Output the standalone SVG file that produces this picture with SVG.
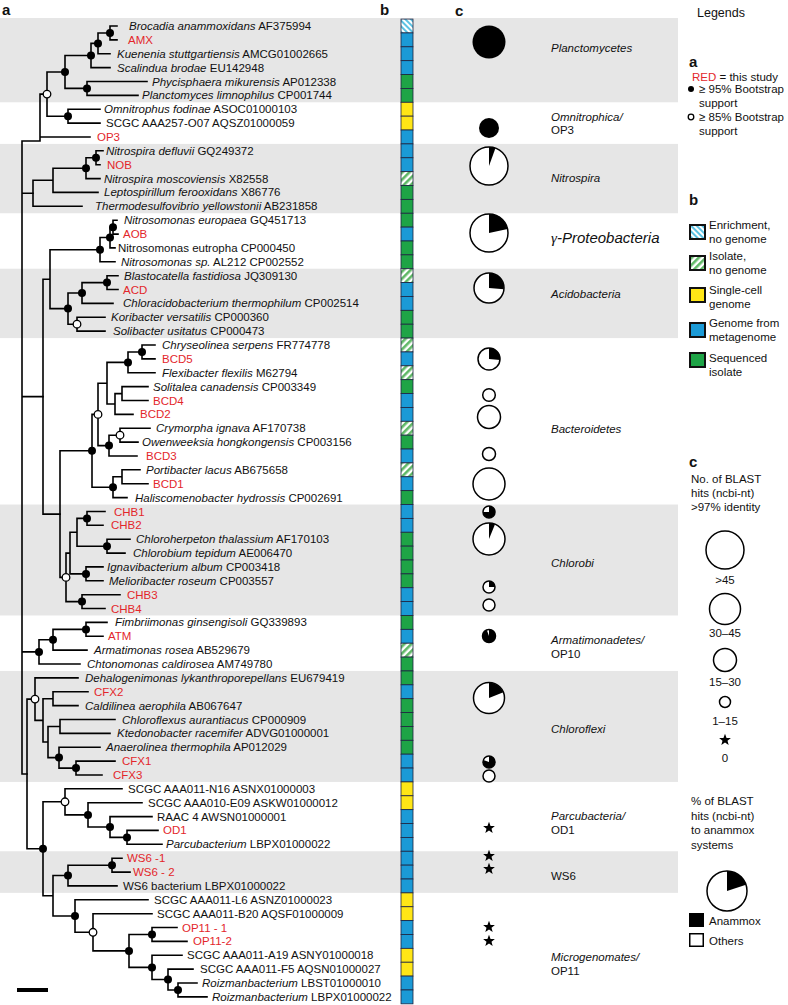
<svg xmlns="http://www.w3.org/2000/svg" width="788" height="1005" viewBox="0 0 788 1005">
<defs>
<style>
text{font-family:"Liberation Sans",Arial,Helvetica,sans-serif;fill:#111}
.t{font-size:11.5px}
.i{font-style:italic}
.r{fill:#e3262b}
.br{fill:none;stroke:#000;stroke-width:1.6;stroke-linecap:square}
.dot{fill:#000}
.od{fill:#fff;stroke:#000;stroke-width:1.3}
.band{fill:#e6e6e6}
.cb rect{stroke:#1d2340;stroke-width:0.8}
.B{fill:#1b9ad6}.G{fill:#1ea446}.Y{fill:#ffe616}.E{fill:url(#pe)}.I{fill:url(#pi)}
.pie{fill:#fff;stroke:#000;stroke-width:1.5}
.wd{fill:#000}
.grp{font-size:11.5px;font-style:italic}
.lab{font-size:15px;font-weight:bold}
.lg{font-size:11.5px}
.lb{stroke:#111;stroke-width:2}
</style>
<pattern id="pe" width="4" height="4" patternUnits="userSpaceOnUse" patternTransform="rotate(-45)"><rect width="4" height="4" fill="#fff"/><rect width="2" height="4" fill="#5cc3e4"/></pattern>
<pattern id="pi" width="5" height="5" patternUnits="userSpaceOnUse" patternTransform="rotate(45)"><rect width="5" height="5" fill="#fff"/><rect width="2.6" height="5" fill="#5fb866"/></pattern>
<path id="star" d="M0,-6.2L1.55,-2.1L5.9,-1.9L2.5,0.8L3.65,5L0,2.6L-3.65,5L-2.5,0.8L-5.9,-1.9L-1.55,-2.1Z"/>
</defs>
<rect width="788" height="1005" fill="#fff"/>
<g id="bands">
<rect class="band" x="0" y="18" width="678" height="84.3"/>
<rect class="band" x="0" y="143.9" width="678" height="69.35"/>
<rect class="band" x="0" y="268.73" width="678" height="69.35"/>
<rect class="band" x="0" y="504.52" width="678" height="110.96"/>
<rect class="band" x="0" y="670.96" width="678" height="110.96"/>
<rect class="band" x="0" y="851.27" width="678" height="41.61"/>
</g>
<g id="panel-labels">
<text class="lab" x="2" y="15">a</text>
<text class="lab" x="380" y="15">b</text>
<text class="lab" x="455" y="16">c</text>
</g>
<g id="connectors">
<path class="br" d="M110,26V39.9M110,26H117M110,39.9H117M98,33V53.7M98,33H110M98,53.7H110M91,43.4V67.6M91,43.4H98M91,67.6H110M87,81.5V95.4M87,81.5H147M87,95.4H138M65,55.5V88.4M65,55.5H91M65,88.4H87M68,109.2V123.1M68,109.2H100M68,123.1H100M47,72V116.2M47,72H65M47,116.2H68M40,94.1V141M40,94.1H47M40,137H90M22,141V774M22,141H40M22,193.3H33M22,396.6H43M22,651.9H39M22,774H27"/>
<path class="br" d="M96,150.8V164.7M96,150.8H103M96,164.7H100M86,157.8V178.6M86,157.8H96M86,178.6H100M53,168.2V192.4M53,168.2H86M53,192.4H98M33,180.3V206.3M33,180.3H53M33,206.3H82"/>
<path class="br" d="M113,220.2V234.1M113,220.2H117M113,234.1H118M110,227.2V247.9M110,227.2H113M110,247.9H115M100,237.5V261.8M100,237.5H110M100,261.8H115M107,275.7V289.5M107,275.7H118M107,289.5H118M82,282.6V303.4M82,282.6H107M82,303.4H113M77,317.3V331.1M77,317.3H105M77,331.1H105M68,293V324.2M68,293H82M68,324.2H77M50,249.7V308.6M50,249.7H100M50,308.6H68M43,279.2V514.1M43,279.2H50M43,514.1H60"/>
<path class="br" d="M142,345V358.9M142,345H155M142,358.9H155M128,352V372.8M128,352H142M128,372.8H155M122,386.6V400.5M122,386.6H148M122,400.5H148M115,393.6V414.4M115,393.6H122M115,414.4H133M107,362.4V404M107,362.4H128M107,404H115M120,428.2V442.1M120,428.2H150M120,442.1H138M109,435.2V456M109,435.2H120M109,456H137M98,383.2V445.6M98,383.2H107M98,445.6H109M122,469.8V483.7M122,469.8H140M122,483.7H148M113,476.8V497.6M113,476.8H122M113,497.6H127M92,414.4V487.2M92,414.4H98M92,487.2H113M60,450.8V577.4M60,450.8H92M60,577.4H66"/>
<path class="br" d="M87,511.5V525.3M87,511.5H105M87,525.3H103M107,539.2V553.1M107,539.2H130M107,553.1H125M77,518.4V546.2M77,518.4H87M77,546.2H107M86,566.9V580.8M86,566.9H103M86,580.8H103M70,532.3V573.9M70,532.3H77M70,573.9H86M82,594.7V608.5M82,594.7H120M82,608.5H105M66,553.1V601.6M66,553.1H70M66,601.6H82"/>
<path class="br" d="M86,622.4V636.3M86,622.4H107M86,636.3H103M53,629.4V650.1M53,629.4H86M53,650.1H87M39,639.8V664M39,639.8H53M39,664H80"/>
<path class="br" d="M53,691.8V705.6M53,691.8H88M53,705.6H78M60,719.5V733.4M60,719.5H115M60,733.4H110M76,761.1V775M76,761.1H115M76,775H102M59,747.2V768.1M59,747.2H100M59,768.1H76M48,726.5V757.6M48,726.5H60M48,757.6H59M43,698.7V742M43,698.7H53M43,742H48M35,677.9V720.4M35,677.9H78M35,720.4H43M27,699.1V848.8M27,699.1H35M27,848.8H43"/>
<path class="br" d="M127,830.4V844.3M127,830.4H158M127,844.3H162M110,816.6V837.4M110,816.6H152M110,837.4H127M88,802.7V827M88,802.7H142M88,827H110M65,788.8V814.9M65,788.8H122M65,814.9H88M112,858.2V872.1M112,858.2H122M112,872.1H130M68,865.2V885.9M68,865.2H112M68,885.9H117M178,983V996.9M178,983H197M178,996.9H207M168,969.1V990M168,969.1H193M168,990H178M152,955.3V979.5M152,955.3H182M152,979.5H168M152,927.5V941.4M152,927.5H177M152,941.4H187M129,934.5V967.4M129,934.5H152M129,967.4H152M93,913.7V950.9M93,913.7H152M93,950.9H129M75,899.8V932.3M75,899.8H148M75,932.3H93M53,875.5V916M53,875.5H68M53,916H75M43,801.8V895.8M43,801.8H65M43,895.8H53"/>
</g>
<g id="support-nodes">
<circle class="dot" cx="110" cy="33" r="4"/><circle class="dot" cx="98" cy="43.4" r="4"/><circle class="dot" cx="91" cy="55.5" r="4"/><circle class="dot" cx="87" cy="88.4" r="4"/><circle class="dot" cx="65" cy="72" r="4"/><circle class="dot" cx="68" cy="116.2" r="4"/><circle class="od" cx="47" cy="94.1" r="3.8"/>
<circle class="dot" cx="96" cy="157.8" r="4"/><circle class="dot" cx="86" cy="168.2" r="4"/>
<circle class="dot" cx="113" cy="227.2" r="4"/><circle class="dot" cx="110" cy="237.5" r="4"/><circle class="dot" cx="100" cy="249.7" r="4"/>
<circle class="dot" cx="107" cy="282.6" r="4"/><circle class="dot" cx="82" cy="293" r="4"/><circle class="dot" cx="68" cy="308.6" r="4"/><circle class="od" cx="77" cy="324.2" r="3.8"/>
<circle class="dot" cx="142" cy="352" r="4"/><circle class="dot" cx="128" cy="362.4" r="4"/><circle class="od" cx="120" cy="435.2" r="3.8"/><circle class="dot" cx="109" cy="445.6" r="4"/><circle class="od" cx="98" cy="414.4" r="3.8"/><circle class="dot" cx="113" cy="487.2" r="4"/><circle class="dot" cx="92" cy="450.8" r="4"/>
<circle class="dot" cx="87" cy="518.4" r="4"/><circle class="dot" cx="107" cy="546.2" r="4"/><circle class="dot" cx="86" cy="573.9" r="4"/><circle class="dot" cx="82" cy="601.6" r="4"/><circle class="od" cx="66" cy="577.4" r="3.8"/>
<circle class="dot" cx="86" cy="629.4" r="4"/><circle class="dot" cx="53" cy="639.8" r="4"/><circle class="dot" cx="39" cy="651.9" r="4"/>
<circle class="dot" cx="76" cy="768.1" r="4"/><circle class="dot" cx="59" cy="757.6" r="4"/><circle class="od" cx="35" cy="699.1" r="3.8"/>
<circle class="dot" cx="127" cy="837.4" r="4"/><circle class="dot" cx="110" cy="827" r="4"/><circle class="dot" cx="88" cy="814.9" r="4"/><circle class="od" cx="65" cy="801.8" r="3.8"/><circle class="dot" cx="43" cy="848.8" r="4"/>
<circle class="dot" cx="112" cy="865.2" r="4"/><circle class="dot" cx="68" cy="875.5" r="4"/>
<circle class="dot" cx="75" cy="916" r="4"/><circle class="od" cx="93" cy="932.3" r="3.8"/><circle class="dot" cx="129" cy="950.9" r="4"/><circle class="dot" cx="152" cy="934.5" r="4"/><circle class="dot" cx="152" cy="967.4" r="4"/><circle class="dot" cx="168" cy="979.5" r="4"/><circle class="dot" cx="178" cy="990" r="4"/>
</g>
<g id="leaves" class="t">
<g id="L1"><text x="129" y="30"><tspan class="i">Brocadia anammoxidans</tspan> AF375994</text></g>
<g id="L2"><text class="r" x="128" y="43.9">AMX</text></g>
<g id="L3"><text x="117" y="57.7"><tspan class="i">Kuenenia stuttgartiensis</tspan> AMCG01002665</text></g>
<g id="L4"><text x="117" y="71.6"><tspan class="i">Scalindua brodae</tspan> EU142948</text></g>
<g id="L5"><text x="152" y="85.5"><tspan class="i">Phycisphaera mikurensis</tspan> AP012338</text></g>
<g id="L6"><text x="142" y="99.4"><tspan class="i">Planctomyces limnophilus</tspan> CP001744</text></g>
<g id="L7"><text x="104" y="113.2"><tspan class="i">Omnitrophus fodinae</tspan> ASOC01000103</text></g>
<g id="L8"><text x="106" y="127.1">SCGC AAA257-O07 AQSZ01000059</text></g>
<g id="L9"><text class="r" x="97" y="141">OP3</text></g>
<g id="L10"><text x="106" y="154.8"><tspan class="i">Nitrospira defluvii</tspan> GQ249372</text></g>
<g id="L11"><text class="r" x="107" y="168.7">NOB</text></g>
<g id="L12"><text x="104" y="182.6"><tspan class="i">Nitrospira moscoviensis</tspan> X82558</text></g>
<g id="L13"><text x="104" y="196.4"><tspan class="i">Leptospirillum ferooxidans</tspan> X86776</text></g>
<g id="L14"><text x="95" y="210.3"><tspan class="i">Thermodesulfovibrio yellowstonii</tspan> AB231858</text></g>
<g id="L15"><text x="124" y="224.2"><tspan class="i">Nitrosomonas europaea</tspan> GQ451713</text></g>
<g id="L16"><text class="r" x="123" y="238.1">AOB</text></g>
<g id="L17"><text x="118" y="251.9">Nitrosomonas eutropha CP000450</text></g>
<g id="L18"><text x="121" y="265.8"><tspan class="i">Nitrosomonas sp.</tspan> AL212 CP002552</text></g>
<g id="L19"><text x="124" y="279.7"><tspan class="i">Blastocatella fastidiosa</tspan> JQ309130</text></g>
<g id="L20"><text class="r" x="123" y="293.5">ACD</text></g>
<g id="L21"><text x="123" y="307.4"><tspan class="i">Chloracidobacterium thermophilum</tspan> CP002514</text></g>
<g id="L22"><text x="111" y="321.3"><tspan class="i">Koribacter versatilis</tspan> CP000360</text></g>
<g id="L23"><text x="113" y="335.1"><tspan class="i">Solibacter usitatus</tspan> CP000473</text></g>
<g id="L24"><text x="162" y="349"><tspan class="i">Chryseolinea serpens</tspan> FR774778</text></g>
<g id="L25"><text class="r" x="162" y="362.9">BCD5</text></g>
<g id="L26"><text x="162" y="376.8"><tspan class="i">Flexibacter flexilis</tspan> M62794</text></g>
<g id="L27"><text x="153" y="390.6"><tspan class="i">Solitalea canadensis</tspan> CP003349</text></g>
<g id="L28"><text class="r" x="153" y="404.5">BCD4</text></g>
<g id="L29"><text class="r" x="140" y="418.4">BCD2</text></g>
<g id="L30"><text x="156" y="432.2"><tspan class="i">Crymorpha ignava</tspan> AF170738</text></g>
<g id="L31"><text x="142" y="446.1"><tspan class="i">Owenweeksia hongkongensis</tspan> CP003156</text></g>
<g id="L32"><text class="r" x="146" y="460">BCD3</text></g>
<g id="L33"><text x="146" y="473.8"><tspan class="i">Portibacter lacus</tspan> AB675658</text></g>
<g id="L34"><text class="r" x="153" y="487.7">BCD1</text></g>
<g id="L35"><text x="135" y="501.6"><tspan class="i">Haliscomenobacter hydrossis</tspan> CP002691</text></g>
<g id="L36"><text class="r" x="114" y="515.5">CHB1</text></g>
<g id="L37"><text class="r" x="111" y="529.3">CHB2</text></g>
<g id="L38"><text x="136" y="543.2"><tspan class="i">Chloroherpeton thalassium</tspan> AF170103</text></g>
<g id="L39"><text x="133" y="557.1"><tspan class="i">Chlorobium tepidum</tspan> AE006470</text></g>
<g id="L40"><text x="107" y="570.9"><tspan class="i">Ignavibacterium album</tspan> CP003418</text></g>
<g id="L41"><text x="109" y="584.8"><tspan class="i">Melioribacter roseum</tspan> CP003557</text></g>
<g id="L42"><text class="r" x="127" y="598.7">CHB3</text></g>
<g id="L43"><text class="r" x="111" y="612.5">CHB4</text></g>
<g id="L44"><text x="115" y="626.4"><tspan class="i">Fimbriimonas ginsengisoli</tspan> GQ339893</text></g>
<g id="L45"><text class="r" x="108" y="640.3">ATM</text></g>
<g id="L46"><text x="94" y="654.1"><tspan class="i">Armatimonas rosea</tspan> AB529679</text></g>
<g id="L47"><text x="87" y="668"><tspan class="i">Chtonomonas caldirosea</tspan> AM749780</text></g>
<g id="L48"><text x="85" y="681.9"><tspan class="i">Dehalogenimonas lykanthroporepellans</tspan> EU679419</text></g>
<g id="L49"><text class="r" x="94" y="695.8">CFX2</text></g>
<g id="L50"><text x="85" y="709.6"><tspan class="i">Caldilinea aerophila</tspan> AB067647</text></g>
<g id="L51"><text x="122" y="723.5"><tspan class="i">Chloroflexus aurantiacus</tspan> CP000909</text></g>
<g id="L52"><text x="117" y="737.4"><tspan class="i">Ktedonobacter racemifer</tspan> ADVG01000001</text></g>
<g id="L53"><text x="106" y="751.2"><tspan class="i">Anaerolinea thermophila</tspan> AP012029</text></g>
<g id="L54"><text class="r" x="122" y="765.1">CFX1</text></g>
<g id="L55"><text class="r" x="113" y="779">CFX3</text></g>
<g id="L56"><text x="128" y="792.8">SCGC AAA011-N16 ASNX01000003</text></g>
<g id="L57"><text x="148" y="806.7">SCGC AAA010-E09 ASKW01000012</text></g>
<g id="L58"><text x="157" y="820.6">RAAC 4 AWSN01000001</text></g>
<g id="L59"><text class="r" x="163" y="834.4">OD1</text></g>
<g id="L60"><text x="166" y="848.3"><tspan class="i">Parcubacterium</tspan> LBPX01000022</text></g>
<g id="L61"><text class="r" x="127" y="862.2">WS6 -1</text></g>
<g id="L62"><text class="r" x="133" y="876.1">WS6 - 2</text></g>
<g id="L63"><text x="123" y="889.9">WS6 bacterium LBPX01000022</text></g>
<g id="L64"><text x="154" y="903.8">SCGC AAA011-L6 ASNZ01000023</text></g>
<g id="L65"><text x="157" y="917.7">SCGC AAA011-B20 AQSF01000009</text></g>
<g id="L66"><text class="r" x="182" y="931.5">OP11 - 1</text></g>
<g id="L67"><text class="r" x="193" y="945.4">OP11-2</text></g>
<g id="L68"><text x="187" y="959.3">SCGC AAA011-A19 ASNY01000018</text></g>
<g id="L69"><text x="200" y="973.1">SCGC AAA011-F5 AQSN01000027</text></g>
<g id="L70"><text x="202" y="987"><tspan class="i">Roizmanbacterium</tspan> LBST01000010</text></g>
<g id="L71"><text x="212" y="1000.9"><tspan class="i">Roizmanbacterium</tspan> LBPX01000022</text></g>
</g>
<g id="scale-bar"><rect x="17" y="988" width="31" height="4" fill="#000"/></g>
<g id="column-b" class="cb">
<rect class="E" x="401" y="19.07" width="12" height="13.87"/>
<rect class="B" x="401" y="32.94" width="12" height="13.87"/>
<rect class="B" x="401" y="46.81" width="12" height="13.87"/>
<rect class="B" x="401" y="60.68" width="12" height="13.87"/>
<rect class="G" x="401" y="74.55" width="12" height="13.87"/>
<rect class="G" x="401" y="88.42" width="12" height="13.87"/>
<rect class="Y" x="401" y="102.29" width="12" height="13.87"/>
<rect class="Y" x="401" y="116.16" width="12" height="13.87"/>
<rect class="B" x="401" y="130.03" width="12" height="13.87"/>
<rect class="B" x="401" y="143.9" width="12" height="13.87"/>
<rect class="B" x="401" y="157.77" width="12" height="13.87"/>
<rect class="I" x="401" y="171.64" width="12" height="13.87"/>
<rect class="G" x="401" y="185.51" width="12" height="13.87"/>
<rect class="G" x="401" y="199.38" width="12" height="13.87"/>
<rect class="G" x="401" y="213.25" width="12" height="13.87"/>
<rect class="B" x="401" y="227.12" width="12" height="13.87"/>
<rect class="G" x="401" y="240.99" width="12" height="13.87"/>
<rect class="G" x="401" y="254.86" width="12" height="13.87"/>
<rect class="I" x="401" y="268.73" width="12" height="13.87"/>
<rect class="B" x="401" y="282.6" width="12" height="13.87"/>
<rect class="B" x="401" y="296.47" width="12" height="13.87"/>
<rect class="G" x="401" y="310.34" width="12" height="13.87"/>
<rect class="G" x="401" y="324.21" width="12" height="13.87"/>
<rect class="I" x="401" y="338.08" width="12" height="13.87"/>
<rect class="B" x="401" y="351.95" width="12" height="13.87"/>
<rect class="I" x="401" y="365.82" width="12" height="13.87"/>
<rect class="G" x="401" y="379.69" width="12" height="13.87"/>
<rect class="B" x="401" y="393.56" width="12" height="13.87"/>
<rect class="B" x="401" y="407.43" width="12" height="13.87"/>
<rect class="I" x="401" y="421.3" width="12" height="13.87"/>
<rect class="G" x="401" y="435.17" width="12" height="13.87"/>
<rect class="B" x="401" y="449.04" width="12" height="13.87"/>
<rect class="I" x="401" y="462.91" width="12" height="13.87"/>
<rect class="B" x="401" y="476.78" width="12" height="13.87"/>
<rect class="G" x="401" y="490.65" width="12" height="13.87"/>
<rect class="B" x="401" y="504.52" width="12" height="13.87"/>
<rect class="B" x="401" y="518.39" width="12" height="13.87"/>
<rect class="G" x="401" y="532.26" width="12" height="13.87"/>
<rect class="G" x="401" y="546.13" width="12" height="13.87"/>
<rect class="G" x="401" y="560" width="12" height="13.87"/>
<rect class="G" x="401" y="573.87" width="12" height="13.87"/>
<rect class="B" x="401" y="587.74" width="12" height="13.87"/>
<rect class="B" x="401" y="601.61" width="12" height="13.87"/>
<rect class="G" x="401" y="615.48" width="12" height="13.87"/>
<rect class="B" x="401" y="629.35" width="12" height="13.87"/>
<rect class="I" x="401" y="643.22" width="12" height="13.87"/>
<rect class="G" x="401" y="657.09" width="12" height="13.87"/>
<rect class="G" x="401" y="670.96" width="12" height="13.87"/>
<rect class="B" x="401" y="684.83" width="12" height="13.87"/>
<rect class="G" x="401" y="698.7" width="12" height="13.87"/>
<rect class="G" x="401" y="712.57" width="12" height="13.87"/>
<rect class="G" x="401" y="726.44" width="12" height="13.87"/>
<rect class="G" x="401" y="740.31" width="12" height="13.87"/>
<rect class="B" x="401" y="754.18" width="12" height="13.87"/>
<rect class="B" x="401" y="768.05" width="12" height="13.87"/>
<rect class="Y" x="401" y="781.92" width="12" height="13.87"/>
<rect class="Y" x="401" y="795.79" width="12" height="13.87"/>
<rect class="B" x="401" y="809.66" width="12" height="13.87"/>
<rect class="B" x="401" y="823.53" width="12" height="13.87"/>
<rect class="B" x="401" y="837.4" width="12" height="13.87"/>
<rect class="B" x="401" y="851.27" width="12" height="13.87"/>
<rect class="B" x="401" y="865.14" width="12" height="13.87"/>
<rect class="B" x="401" y="879.01" width="12" height="13.87"/>
<rect class="Y" x="401" y="892.88" width="12" height="13.87"/>
<rect class="Y" x="401" y="906.75" width="12" height="13.87"/>
<rect class="B" x="401" y="920.62" width="12" height="13.87"/>
<rect class="B" x="401" y="934.49" width="12" height="13.87"/>
<rect class="Y" x="401" y="948.36" width="12" height="13.87"/>
<rect class="Y" x="401" y="962.23" width="12" height="13.87"/>
<rect class="B" x="401" y="976.1" width="12" height="13.87"/>
<rect class="B" x="401" y="989.97" width="12" height="13.87"/>
</g>
<g id="column-c">
<circle class="wd" cx="489" cy="42" r="16.5"/>
<circle class="wd" cx="489" cy="128" r="10"/>
<circle class="pie" cx="489" cy="166" r="19"/><path class="wd" d="M489,166L489,147A19,19 0 0 1 495.5,148.1Z"/>
<circle class="pie" cx="489" cy="233" r="19"/><path class="wd" d="M489,233L489,214A19,19 0 0 1 507.6,229Z"/>
<circle class="pie" cx="489" cy="288" r="15"/><path class="wd" d="M489,288L489,273A15,15 0 0 1 503.9,289.3Z"/>
<circle class="pie" cx="489" cy="359" r="11"/><path class="wd" d="M489,359L489,348A11,11 0 0 1 500,360Z"/>
<circle class="pie" cx="489" cy="395" r="6.3"/>
<circle class="pie" cx="489" cy="417" r="11.5"/>
<circle class="pie" cx="489" cy="454" r="6.5"/>
<circle class="pie" cx="489" cy="484" r="16"/>
<circle class="pie" cx="489" cy="512" r="6"/><path class="wd" d="M489,512L489,506A6,6 0 1 1 483,512Z"/>
<circle class="pie" cx="489" cy="539" r="16"/><path class="wd" d="M489,539L489,523A16,16 0 0 1 495,524.2Z"/>
<circle class="pie" cx="489" cy="587" r="6"/><path class="wd" d="M489,587L489,581A6,6 0 0 1 495,587Z"/>
<circle class="pie" cx="489" cy="605" r="6"/>
<circle class="pie" cx="489" cy="636" r="6.5"/><path class="wd" d="M489,636L489,629.5A6.5,6.5 0 1 1 486.8,629.9Z"/>
<circle class="pie" cx="489" cy="698" r="15.5"/><path class="wd" d="M489,698L489,682.5A15.5,15.5 0 0 1 503.4,692.2Z"/>
<circle class="pie" cx="489" cy="762" r="6"/><path class="wd" d="M489,762L489,756A6,6 0 1 1 483.4,760Z"/>
<circle class="pie" cx="489" cy="776" r="6"/>
<use href="#star" x="489" y="828"/>
<use href="#star" x="489" y="856"/>
<use href="#star" x="489" y="869"/>
<use href="#star" x="489" y="927"/>
<use href="#star" x="489" y="941"/>
</g>
<g id="groups" class="grp">
<text x="551" y="52">Planctomycetes</text>
<text x="551" y="121">Omnitrophica/</text>
<text x="551" y="134" font-style="normal">OP3</text>
<text x="551" y="182">Nitrospira</text>
<text x="551" y="243" font-size="15"><tspan font-family="Liberation Serif,serif">γ</tspan>-Proteobacteria</text>
<text x="551" y="298">Acidobacteria</text>
<text x="551" y="433">Bacteroidetes</text>
<text x="551" y="567">Chlorobi</text>
<text x="551" y="644">Armatimonadetes/</text>
<text x="551" y="658" font-style="normal">OP10</text>
<text x="551" y="733">Chloroflexi</text>
<text x="551" y="820">Parcubacteria/</text>
<text x="551" y="834" font-style="normal">OD1</text>
<text x="551" y="880" font-style="normal">WS6</text>
<text x="551" y="961">Microgenomates/</text>
<text x="551" y="975" font-style="normal">OP11</text>
</g>
<g id="legend" class="lg">
<text x="697" y="17" font-size="12.5">Legends</text>
<text class="lab" x="689" y="67">a</text>
<text x="692" y="81"><tspan class="r">RED</tspan> = this study</text>
<circle class="dot" cx="691" cy="89" r="3"/>
<text x="699" y="93">≥ 95% Bootstrap</text>
<text x="699" y="107">support</text>
<circle class="od" cx="691" cy="117" r="2.8"/>
<text x="699" y="121">≥ 85% Bootstrap</text>
<text x="699" y="135">support</text>
<text class="lab" x="689" y="205">b</text>
<rect class="E lb" x="690" y="225" width="15" height="14"/>
<text x="709" y="229">Enrichment,</text><text x="709" y="243">no genome</text>
<rect class="I lb" x="690" y="256" width="15" height="14"/>
<text x="709" y="260">Isolate,</text><text x="709" y="274">no genome</text>
<rect class="Y lb" x="690" y="288" width="15" height="14"/>
<text x="709" y="294">Single-cell</text><text x="709" y="308">genome</text>
<rect class="B lb" x="690" y="323" width="15" height="14"/>
<text x="709" y="327">Genome from</text><text x="709" y="341">metagenome</text>
<rect class="G lb" x="690" y="353" width="15" height="14"/>
<text x="709" y="362">Sequenced</text><text x="709" y="376">isolate</text>
<text class="lab" x="689" y="467">c</text>
<text x="691" y="483">No. of BLAST</text>
<text x="691" y="497">hits (ncbi-nt)</text>
<text x="691" y="511">&gt;97% identity</text>
<circle class="pie" cx="725" cy="550" r="19"/>
<text x="725" y="584" text-anchor="middle">&gt;45</text>
<circle class="pie" cx="725" cy="609" r="15.5"/>
<text x="725" y="637" text-anchor="middle">30–45</text>
<circle class="pie" cx="725" cy="660" r="11.5"/>
<text x="725" y="686" text-anchor="middle">15–30</text>
<circle class="pie" cx="725" cy="702" r="5.5"/>
<text x="725" y="725" text-anchor="middle">1–15</text>
<use href="#star" x="725" y="740"/>
<text x="725" y="762" text-anchor="middle">0</text>
<text x="691" y="805">% of BLAST</text>
<text x="691" y="820">hits (ncbi-nt)</text>
<text x="691" y="834">to anammox</text>
<text x="691" y="849">systems</text>
<circle class="pie" cx="727" cy="891" r="20"/>
<path class="wd" d="M727,891L727,871A20,20 0 0 1 746,884.8Z"/>
<rect x="689" y="913" width="15" height="14" fill="#000"/>
<text x="709" y="925">Anammox</text>
<rect x="689.75" y="933.75" width="13.5" height="12.5" fill="#fff" stroke="#000" stroke-width="1.5"/>
<text x="709" y="945">Others</text>
</g>
</svg>
